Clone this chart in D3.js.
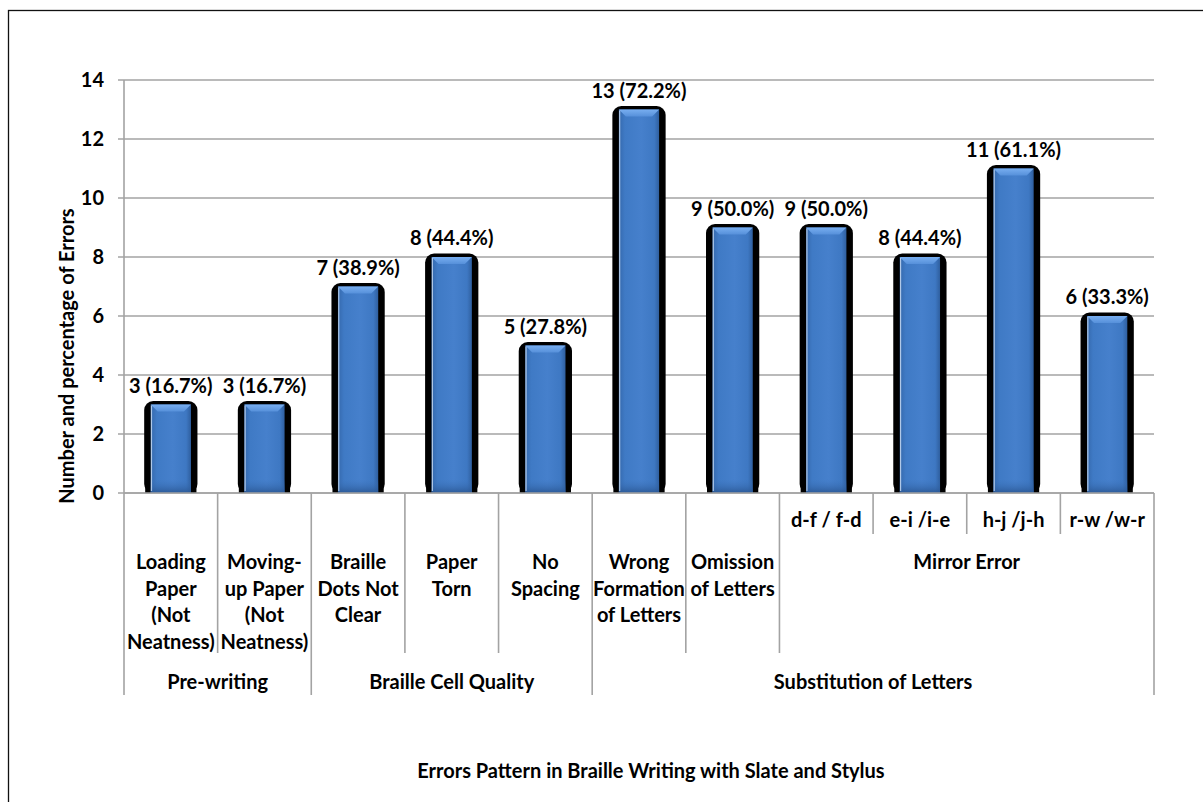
<!DOCTYPE html>
<html lang="en">
  <head>
    <meta charset="UTF-8" />
    <title>Errors Pattern in Braille Writing</title>
    <script src="https://cdn.jsdelivr.net/npm/d3@7"></script>
    <style>
      body { margin: 0; background: #fff; }
      text { font-family: Lato, "Open Sans", sans-serif; font-weight: bold; fill: #000; }
    </style>
  </head>
  <body>
    <script>
      // values
      var values = [3, 3, 7, 8, 5, 13, 9, 9, 8, 11, 6];
      var percents = [16.7, 16.7, 38.9, 44.4, 27.8, 72.2, 50.0, 50.0, 44.4, 61.1, 33.3];
      var subLabels = ["", "", "", "", "", "", "", "d-f / f-d", "e-i /i-e", "h-j /j-h", "r-w /w-r"];
      var catLabels = [
        ["Loading", "Paper", "(Not", "Neatness)"],
        ["Moving-", "up Paper", "(Not", "Neatness)"],
        ["Braille", "Dots Not", "Clear"],
        ["Paper", "Torn"],
        ["No", "Spacing"],
        ["Wrong", "Formation", "of Letters"],
        ["Omission", "of Letters"],
        ["Mirror Error"]
      ];
      var catSpans = [[0, 1], [1, 2], [2, 3], [3, 4], [4, 5], [5, 6], [6, 7], [7, 11]];
      var groups = ["Pre-writing", "Braille Cell Quality", "Substitution of Letters"];
      var groupSpans = [[0, 2], [2, 5], [5, 11]];
      var yTicks = [0, 2, 4, 6, 8, 10, 12, 14];

      var W = 1203, H = 802;
      var plotL = 124, plotR = 1154, plotT = 80, plotB = 493;
      var gridColor = "#a3a3a3";
      var fs = 20;

      var svg = d3.select("body").append("svg")
        .attr("width", W)
        .attr("height", H);

      // outer frame (runs off the right and bottom edges)
      svg.append("rect")
        .attr("x", 8.5).attr("y", 10.5)
        .attr("width", W + 20).attr("height", H + 20)
        .attr("fill", "none")
        .attr("stroke", "#111")
        .attr("stroke-width", 1.3);

      var idx = d3.range(values.length);
      var x = d3.scaleBand().domain(idx).range([plotL, plotR])
        .paddingInner(0.57).paddingOuter(0.285);
      var xb = d3.scaleLinear().domain([0, values.length]).range([plotL, plotR]);
      var y = d3.scaleLinear().domain([0, 14]).range([plotB, plotT]);

      var defs = svg.append("defs");
      var g1 = defs.append("linearGradient").attr("id", "body").attr("x1", 0).attr("x2", 1).attr("y1", 0).attr("y2", 0);
      g1.append("stop").attr("offset", "0%").attr("stop-color", "#3569ad");
      g1.append("stop").attr("offset", "15%").attr("stop-color", "#3f7ac5");
      g1.append("stop").attr("offset", "55%").attr("stop-color", "#4680cc");
      g1.append("stop").attr("offset", "88%").attr("stop-color", "#3e78c3");
      g1.append("stop").attr("offset", "100%").attr("stop-color", "#2f5f9f");
      var g2 = defs.append("linearGradient").attr("id", "bev").attr("x1", 0).attr("x2", 0).attr("y1", 0).attr("y2", 1);
      g2.append("stop").attr("offset", "0%").attr("stop-color", "#78aef0");
      g2.append("stop").attr("offset", "100%").attr("stop-color", "#5690da");
      var g3 = defs.append("linearGradient").attr("id", "foot").attr("x1", 0).attr("x2", 0).attr("y1", 0).attr("y2", 1);
      g3.append("stop").attr("offset", "0%").attr("stop-color", "#3d76bf").attr("stop-opacity", 0);
      g3.append("stop").attr("offset", "100%").attr("stop-color", "#2a5692").attr("stop-opacity", 0.9);
      defs.append("filter").attr("id", "soft")
        .append("feGaussianBlur").attr("stdDeviation", 0.5);

      // gridlines + tick marks
      svg.append("g").selectAll("line").data(yTicks).enter().append("line")
        .attr("x1", plotL - 6).attr("x2", plotR)
        .attr("y1", function (d) { return y(d); })
        .attr("y2", function (d) { return y(d); })
        .attr("stroke", gridColor).attr("stroke-width", 1.6);

      svg.append("line")
        .attr("x1", plotL).attr("x2", plotL)
        .attr("y1", y(14)).attr("y2", plotB)
        .attr("stroke", gridColor).attr("stroke-width", 1.6);

      svg.append("g").selectAll("text").data(yTicks).enter().append("text")
        .attr("x", plotL - 20)
        .attr("y", function (d) { return y(d); })
        .attr("dy", "0.36em")
        .attr("text-anchor", "end")
        .attr("font-size", fs)
        .text(function (d) { return d; });

      // bars
      var bw = x.bandwidth();
      var bars = svg.append("g").selectAll("g").data(idx).enter().append("g");

      bars.append("rect")
        .attr("x", function (i) { return x(i) - 6.5; })
        .attr("y", function (i) { return y(values[i]) - 3.5; })
        .attr("width", bw + 13)
        .attr("height", function (i) { return plotB - y(values[i]) + 3.5; })
        .attr("rx", 9)
        .attr("fill", "#000")
        .attr("filter", "url(#soft)");
      bars.append("rect")
        .attr("x", function (i) { return x(i) - 5.5; })
        .attr("y", plotB - 8)
        .attr("width", bw + 11)
        .attr("height", 8)
        .attr("fill", "#000");

      bars.append("rect")
        .attr("x", function (i) { return x(i); })
        .attr("y", function (i) { return y(values[i]); })
        .attr("width", bw)
        .attr("height", function (i) { return plotB - y(values[i]); })
        .attr("fill", "url(#body)");

      bars.append("rect")
        .attr("x", function (i) { return x(i); })
        .attr("y", plotB - 14)
        .attr("width", bw)
        .attr("height", 14)
        .attr("fill", "url(#foot)");

      var bev = 7;
      bars.append("polygon")
        .attr("points", function (i) {
          var x0 = x(i), y0 = y(values[i]);
          return [[x0, y0], [x0 + bw, y0], [x0 + bw - bev, y0 + bev], [x0 + bev, y0 + bev]].join(" ");
        })
        .attr("fill", "url(#bev)");

      bars.append("line")
        .attr("x1", function (i) { return x(i) + 0.8; })
        .attr("x2", function (i) { return x(i) + 0.8; })
        .attr("y1", function (i) { return y(values[i]) + 1; })
        .attr("y2", plotB - 2)
        .attr("stroke", "#cfe0f5").attr("stroke-width", 1.2).attr("opacity", 0.8);

      // value labels
      svg.append("g").selectAll("text").data(idx).enter().append("text")
        .attr("x", function (i) { return x(i) + bw / 2; })
        .attr("y", function (i) { return y(values[i]) - 12; })
        .attr("text-anchor", "middle")
        .attr("font-size", fs)
        .text(function (i) { return values[i] + " (" + percents[i].toFixed(1) + "%)"; });

      // x axis line
      svg.append("line")
        .attr("x1", plotL).attr("x2", plotR)
        .attr("y1", plotB).attr("y2", plotB)
        .attr("stroke", gridColor).attr("stroke-width", 1.6);

      // category separators, three depths
      var lvl0 = plotB + 41, lvl1 = plotB + 160, lvl2 = plotB + 202;
      var cuts = [];
      d3.range(values.length + 1).forEach(function (k) {
        var depth = lvl0;
        catSpans.forEach(function (s) { if (s[0] === k || s[1] === k) depth = lvl1; });
        groupSpans.forEach(function (s) { if (s[0] === k || s[1] === k) depth = lvl2; });
        cuts.push({ k: k, depth: depth });
      });
      svg.append("g").selectAll("line").data(cuts).enter().append("line")
        .attr("x1", function (d) { return xb(d.k); })
        .attr("x2", function (d) { return xb(d.k); })
        .attr("y1", plotB)
        .attr("y2", function (d) { return d.depth; })
        .attr("stroke", gridColor).attr("stroke-width", 1.6);

      svg.append("g").selectAll("text").data(idx).enter().append("text")
        .attr("x", function (i) { return xb(i + 0.5); })
        .attr("y", plotB + 27)
        .attr("dy", "0.36em")
        .attr("text-anchor", "middle")
        .attr("font-size", fs)
        .text(function (i) { return subLabels[i]; });

      var cat = svg.append("g").selectAll("text").data(catLabels).enter().append("text")
        .attr("x", function (d, i) { return xb((catSpans[i][0] + catSpans[i][1]) / 2); })
        .attr("y", plotB + 69)
        .attr("text-anchor", "middle")
        .attr("font-size", fs);
      cat.selectAll("tspan").data(function (d) { return d; }).enter().append("tspan")
        .attr("x", function () { return d3.select(this.parentNode).attr("x"); })
        .attr("dy", function (d, j) { return j === 0 ? "0.36em" : 26.5; })
        .text(function (d) { return d; });

      svg.append("g").selectAll("text").data(groups).enter().append("text")
        .attr("x", function (d, i) { return xb((groupSpans[i][0] + groupSpans[i][1]) / 2); })
        .attr("y", plotB + 189)
        .attr("dy", "0.36em")
        .attr("text-anchor", "middle")
        .attr("font-size", fs)
        .text(function (d) { return d; });

      // axis titles
      svg.append("text")
        .attr("x", 651).attr("y", 771)
        .attr("dy", "0.36em")
        .attr("text-anchor", "middle")
        .attr("font-size", fs)
        .text("Errors Pattern in Braille Writing with Slate and Stylus");

      svg.append("text")
        .attr("transform", "translate(67,356) rotate(-90)")
        .attr("dy", "0.36em")
        .attr("text-anchor", "middle")
        .attr("font-size", fs)
        .text("Number and percentage of Errors");
    </script>
  </body>
</html>
